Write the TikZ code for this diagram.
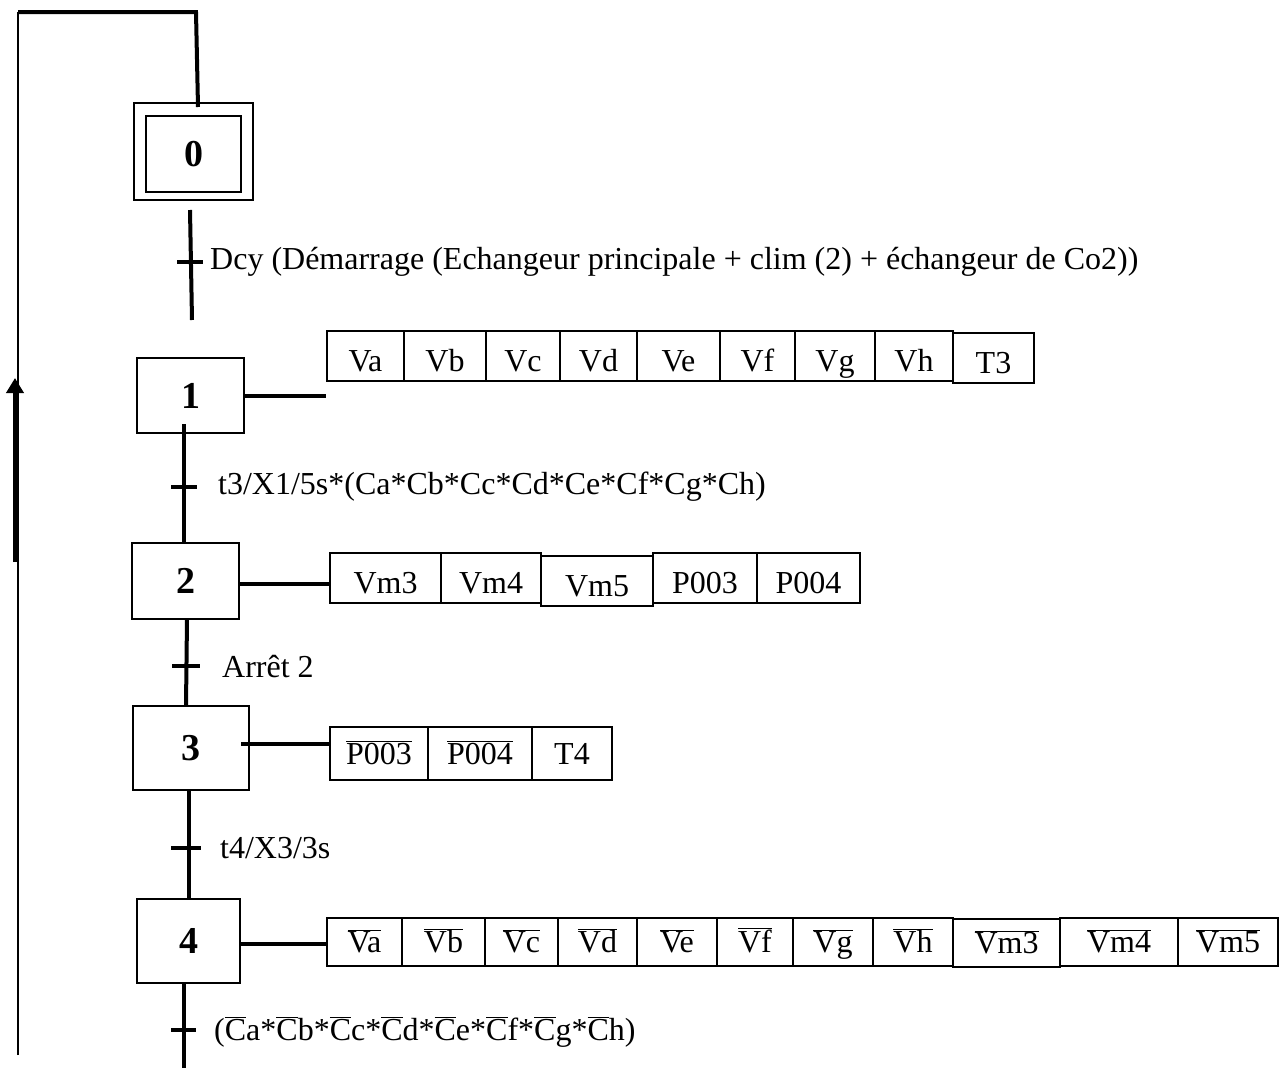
\documentclass[tikz,border=0pt]{standalone}
\usepackage{fontspec}
\setmainfont{Liberation Serif}
\usetikzlibrary{arrows.meta,calc}
\newcommand{\ovl}[1]{$\overline{\mbox{#1}}$}
\begin{document}
\begin{tikzpicture}[x=1pt,y=-1pt,
  stepbox/.style={draw,line width=2.5pt,inner sep=0pt,font=\fontsize{38}{42}\selectfont\bfseries},
  actcell/.style={draw,line width=2.5pt,inner sep=0pt,text depth=0pt,text height=#1,font=\fontsize{32}{36}\selectfont},
  actcell/.default=21pt,
  link/.style={line width=4pt},
  thinlink/.style={line width=2pt},
  tbar/.style={line width=4pt},
  tlabel/.style={anchor=base west,inner sep=0pt,font=\fontsize{32}{36}\selectfont},
]
\useasboundingbox (0,0) rectangle (1282,1068);

% ---- steps
\node[stepbox,minimum width=119,minimum height=97] (s0o) at (193.5,151.5) {};
\node[stepbox,minimum width=95,minimum height=76] (s0) at (193.5,154) {0};
\node[stepbox,minimum width=107,minimum height=75] (s1) at (190.5,395.5) {1};
\node[stepbox,minimum width=107,minimum height=76] (s2) at (185.5,581) {2};
\node[stepbox,minimum width=116,minimum height=84] (s3) at (191,748) {3};
\node[stepbox,minimum width=103,minimum height=84] (s4) at (188.5,941) {4};

% ---- actions step 1
\node[actcell=30pt,minimum width=77,minimum height=50] (a1) at (365.5,356) {Va};
\node[actcell=30pt,minimum width=82,minimum height=50] (a2) at (445,356) {Vb};
\node[actcell=30pt,minimum width=74,minimum height=50] (a3) at (523,356) {Vc};
\node[actcell=30pt,minimum width=77,minimum height=50] (a4) at (598.5,356) {Vd};
\node[actcell=30pt,minimum width=83,minimum height=50] (a5) at (678.5,356) {Ve};
\node[actcell=30pt,minimum width=75,minimum height=50] (a6) at (757.5,356) {Vf};
\node[actcell=30pt,minimum width=80,minimum height=50] (a7) at (835,356) {Vg};
\node[actcell=30pt,minimum width=78,minimum height=50] (a8) at (914,356) {Vh};
\node[actcell=30pt,minimum width=81,minimum height=50] (a9) at (993.5,358) {T3};

% ---- actions step 2
\node[actcell=30pt,minimum width=111,minimum height=50] (b1) at (385.5,578) {Vm3};
\node[actcell=30pt,minimum width=100,minimum height=50] (b2) at (491,578) {Vm4};
\node[actcell=30pt,minimum width=112,minimum height=50] (b3) at (597,581) {Vm5};
\node[actcell=30pt,minimum width=104,minimum height=50] (b4) at (705,578) {P003};
\node[actcell=30pt,minimum width=103,minimum height=50] (b5) at (808.5,578) {P004};

% ---- actions step 3
\node[actcell,minimum width=98,minimum height=53] (c1) at (379,753.5) {\ovl{P003}};
\node[actcell,minimum width=104,minimum height=53] (c2) at (480,753.5) {\ovl{P004}};
\node[actcell,minimum width=80,minimum height=53] (c3) at (572,753.5) {T4};

% ---- actions step 4
\node[actcell,minimum width=75,minimum height=48] (d1) at (364.5,942) {\ovl{Va}};
\node[actcell,minimum width=83,minimum height=48] (d2) at (443.5,942) {\ovl{Vb}};
\node[actcell,minimum width=73,minimum height=48] (d3) at (521.5,942) {\ovl{Vc}};
\node[actcell,minimum width=79,minimum height=48] (d4) at (597.5,942) {\ovl{Vd}};
\node[actcell,minimum width=80,minimum height=48] (d5) at (677,942) {\ovl{Ve}};
\node[actcell,minimum width=76,minimum height=48] (d6) at (755,942) {\ovl{Vf}};
\node[actcell,minimum width=80,minimum height=48] (d7) at (833,942) {\ovl{Vg}};
\node[actcell,minimum width=80,minimum height=48] (d8) at (913,942) {\ovl{Vh}};
\node[actcell,minimum width=107,minimum height=48] (d9) at (1006.5,943) {\ovl{Vm3}};
\node[actcell,minimum width=118,minimum height=48] (d10) at (1119,942) {\ovl{Vm4}};
\node[actcell,minimum width=100,minimum height=48] (d11) at (1228,942) {\ovl{Vm5}};

% ---- step to action links
\draw[link] (s1.east) -- (s1.east -| a1.west);
\draw[link] ([yshift=-3pt]s2.east) -- ([yshift=-3pt]s2.east -| b1.west);
\draw[link] ([xshift=-9pt,yshift=4pt]s3.east) -- ([yshift=4pt]s3.east -| c1.west);
\draw[link] ([yshift=-3pt]s4.east) -- ([yshift=-3pt]s4.east -| d1.west);

% ---- vertical links and transitions
\coordinate (l0a) at (190,210); \coordinate (l0b) at (192,320);
\coordinate (t0l) at (177,262); \coordinate (t0r) at (203,262);
\draw[link] (l0a) -- (l0b);
\draw[tbar] (t0l) -- (t0r);
\node[tlabel] (lab0) at (210,269) {Dcy (Démarrage (Echangeur principale + clim (2) + échangeur de Co2))};

\coordinate (l1a) at (184,424); \coordinate (l1b) at (184,542);
\coordinate (t1l) at (171,487); \coordinate (t1r) at (197,487);
\draw[link] (l1a) -- (l1b);
\draw[tbar] (t1l) -- (t1r);
\node[tlabel] (lab1) at (218,494) {t3/X1/5s*(Ca*Cb*Cc*Cd*Ce*Cf*Cg*Ch)};

\coordinate (l2a) at (187,619); \coordinate (l2b) at (186,706);
\coordinate (t2l) at (172,666); \coordinate (t2r) at (200,666);
\draw[link] (l2a) -- (l2b);
\draw[tbar] (t2l) -- (t2r);
\node[tlabel] (lab2) at (222,677) {Arrêt 2};

\coordinate (l3a) at (189,790); \coordinate (l3b) at (189,899);
\coordinate (t3l) at (171,848); \coordinate (t3r) at (201,848);
\draw[link] (l3a) -- (l3b);
\draw[tbar] (t3l) -- (t3r);
\node[tlabel] (lab3) at (220,858) {t4/X3/3s};

\coordinate (l4a) at (184,983); \coordinate (l4b) at (184,1068);
\coordinate (t4l) at (171,1030); \coordinate (t4r) at (196,1030);
\draw[link] (l4a) -- (l4b);
\draw[tbar] (t4l) -- (t4r);
\node[tlabel] (lab4) at (214,1040) {(\ovl{C}a*\ovl{C}b*\ovl{C}c*\ovl{C}d*\ovl{C}e*\ovl{C}f*\ovl{C}g*\ovl{C}h)};

% ---- return line
\coordinate (rb) at (18,1055);
\coordinate (rt) at (18,12);
\coordinate (rr) at (196,12);
\coordinate (r0) at (198,107);
\draw[thinlink] (rb) -- (rt);
\draw[link] (rt) -- (rr) -- (r0);
\coordinate (ab) at (15,562);
\coordinate (at) at (15,378);
\draw[line width=4.5pt,-{Triangle[width=17pt,length=15pt]}] (ab) -- (at);
\end{tikzpicture}
\end{document}
